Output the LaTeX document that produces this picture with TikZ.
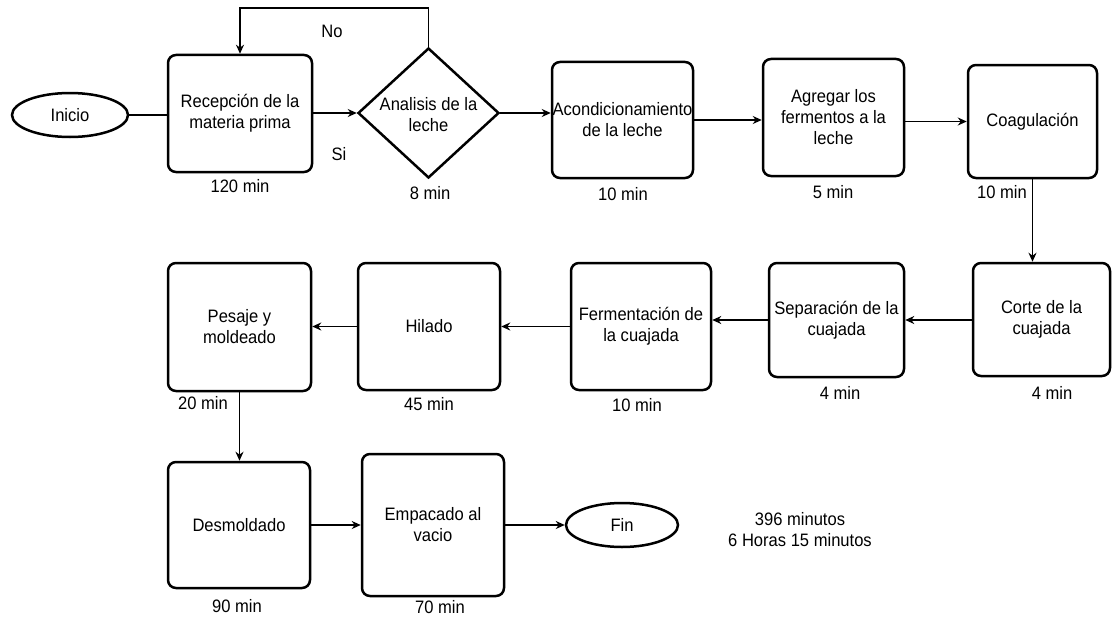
\documentclass[tikz,border=0pt]{standalone}
\usepackage{fontspec}
\setmainfont{Liberation Sans}[FakeStretch=0.92]
\usetikzlibrary{shapes.geometric,arrows.meta}
\begin{document}
\begin{tikzpicture}[x=1pt,y=-1pt,
  every node/.style={font=\fontsize{18}{21}\selectfont, text=black},
  proc/.style={draw, line width=2.5pt, rounded corners=8pt, inner sep=0pt, align=center},
  term/.style={draw, ellipse, line width=2.5pt, inner sep=0pt},
  decision/.style={draw, diamond, line width=2.5pt, inner sep=0pt},
  flow/.style={line width=1.8pt, -{Stealth[length=9pt,width=8pt]}},
  link/.style={line width=1.8pt},
  tlabel/.style={inner sep=0pt}]
\useasboundingbox (0,0) rectangle (1118,618);

% first row
\node[term, minimum width=116pt, minimum height=44pt] (inicio) at (70,115) {Inicio};
\node[proc, minimum width=144pt, minimum height=117pt] (recep) at (240,113.5) {Recepción de la\\materia prima};
\node[decision, minimum width=141pt, minimum height=130pt] (diam) at (428.5,113) {};
\node[tlabel, align=center] (diamtxt) at (428.5,115) {Analisis de la\\leche};
\node[proc, minimum width=141pt, minimum height=116pt] (acond) at (622.5,120) {Acondicionamiento\\de la leche};
\node[proc, minimum width=141pt, minimum height=117pt] (agreg) at (833.5,117.5) {Agregar los\\fermentos a la\\leche};
\node[proc, minimum width=129pt, minimum height=113pt] (coag) at (1032.5,121.5) {Coagulación};

% second row (right to left)
\node[proc, minimum width=137pt, minimum height=113pt] (corte) at (1041.5,319.5) {Corte de la\\cuajada};
\node[proc, minimum width=135pt, minimum height=114pt] (sep) at (836.5,320) {Separación de la\\cuajada};
\node[proc, minimum width=140pt, minimum height=127pt] (ferm) at (641,326.5) {Fermentación de\\la cuajada};
\node[proc, minimum width=142pt, minimum height=127pt] (hilado) at (429,326.5) {Hilado};
\node[proc, minimum width=143pt, minimum height=128pt] (pesaje) at (239.5,327) {Pesaje y\\moldeado};

% third row
\node[proc, minimum width=142pt, minimum height=126pt] (desm) at (239,525) {Desmoldado};
\node[proc, minimum width=142pt, minimum height=142pt] (empac) at (433,525) {Empacado al\\vacio};
\node[term, minimum width=112pt, minimum height=44pt] (fin) at (622,525) {Fin};

% durations
\node[tlabel] (tRecep) at (240,186) {120 min};
\node[tlabel] (tDiam) at (430,193) {8 min};
\node[tlabel] (tAcond) at (623,194) {10 min};
\node[tlabel] (tAgreg) at (833,192) {5 min};
\node[tlabel] (tCoag) at (1002,192) {10 min};
\node[tlabel] (tCorte) at (1052,393) {4 min};
\node[tlabel] (tSep) at (840,393) {4 min};
\node[tlabel] (tFerm) at (637,405) {10 min};
\node[tlabel] (tHilado) at (429,404) {45 min};
\node[tlabel] (tPesaje) at (203,403) {20 min};
\node[tlabel] (tDesm) at (237,606) {90 min};
\node[tlabel] (tEmpac) at (440,607) {70 min};
\node[tlabel, align=center] (total) at (800,530) {396 minutos\\6 Horas 15 minutos};

% decision labels
\node[tlabel] (lblNo) at (332,31) {No};
\node[tlabel] (lblSi) at (339,154) {Si};

% connectors
\coordinate (looptop) at (0,8);
\draw[link] (inicio.east) -- (inicio.east -| recep.west);
\draw[flow] (recep.east |- diam.west) -- (diam.west);
\draw[flow] (diam.north) -- (diam.north |- looptop) -| (recep.north);
\draw[flow] (diam.east) -- (diam.east -| acond.west);
\draw[flow] (acond.east) -- (acond.east -| agreg.west);
\draw[flow] (agreg.east |- coag.west) -- (coag.west);
\draw[flow] (coag.south) -- (coag.south |- corte.north);
\draw[flow] (corte.west |- sep.east) -- (sep.east);
\draw[flow] (sep.west) -- (sep.west -| ferm.east);
\draw[flow] (ferm.west) -- (ferm.west -| hilado.east);
\draw[flow] (hilado.west) -- (hilado.west -| pesaje.east);
\draw[flow] (pesaje.south) -- (pesaje.south |- desm.north);
\draw[flow] (desm.east) -- (desm.east -| empac.west);
\draw[flow] (empac.east) -- (empac.east -| fin.west);
\end{tikzpicture}
\end{document}
